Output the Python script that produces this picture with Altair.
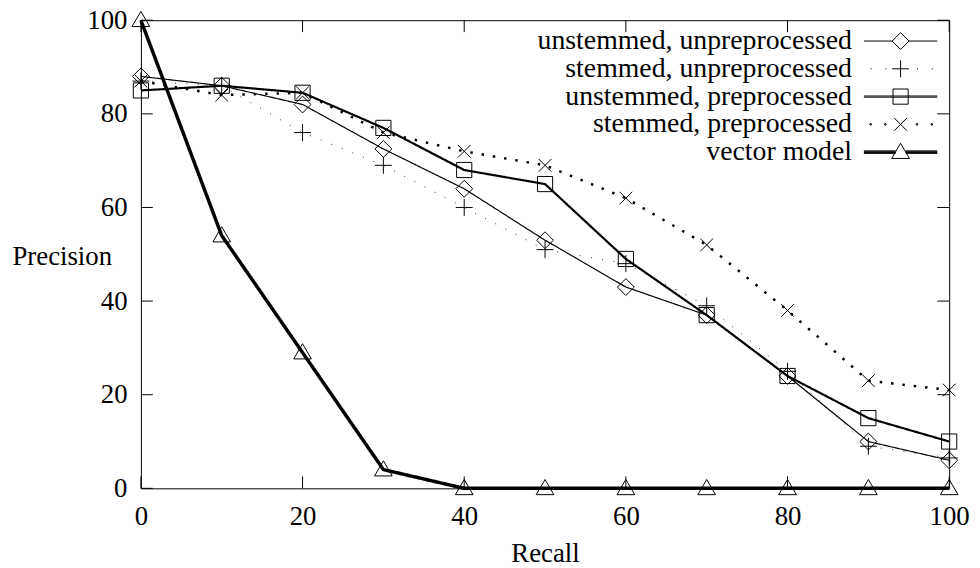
import altair as alt
import pandas as pd

# ---- data ----
recall = [0, 10, 20, 30, 40, 50, 60, 70, 80, 90, 100]
series_names = [
    "unstemmed, unpreprocessed",
    "stemmed, unpreprocessed",
    "unstemmed, preprocessed",
    "stemmed, preprocessed",
    "vector model",
]
unstemmed_unpre = [88, 86, 82, 72.5, 64, 53, 43, 37, 24, 10, 6]
stemmed_unpre = [87, 86, 76, 69, 60, 51, 48, 39, 25, 9, 6.5]
unstemmed_pre = [85, 86, 84.5, 77, 68, 65, 49, 37, 24, 15, 10]
stemmed_pre = [87, 84, 84.5, 76, 72, 69, 62, 52, 38, 23, 21]
vector_model = [100, 54, 29, 4, 0, 0, 0, 0, 0, 0, 0]
tick_values = [0, 20, 40, 60, 80, 100]

all_values = [unstemmed_unpre, stemmed_unpre, unstemmed_pre, stemmed_pre, vector_model]
rows = []
for name, vals in zip(series_names, all_values):
    for r, p in zip(recall, vals):
        rows.append({"series": name, "recall": r, "precision": p})
df = pd.DataFrame(rows)
ticks_x = pd.DataFrame({"recall": tick_values})
ticks_y = pd.DataFrame({"precision": tick_values})

W, H = 815, 472
FONT = "Liberation Serif"
TICK = 12

x_scale = alt.Scale(domain=[0, 100], nice=False, zero=False)
y_scale = alt.Scale(domain=[0, 100], nice=False, zero=False)
x_enc = alt.X("recall:Q", scale=x_scale,
              axis=alt.Axis(values=tick_values, title="Recall", labelPadding=15,
                            labelFlush=False, labelOverlap=False, tickSize=0,
                            titleX=W / 2, titleY=74, titleAlign="center",
                            titleBaseline="alphabetic"))
y_enc = alt.Y("precision:Q", scale=y_scale,
              axis=alt.Axis(values=tick_values, title="Precision", labelPadding=14,
                            labelFlush=False, labelOverlap=False, tickSize=0,
                            titleAngle=0, titleAlign="left", titleBaseline="alphabetic",
                            titleX=-130, titleY=246))

# line styles per series
line_styles = {
    "unstemmed, unpreprocessed": dict(strokeWidth=1.2, strokeDash=[1, 0], color="black"),
    "stemmed, unpreprocessed": dict(strokeWidth=1, strokeDash=[1, 10.5], color="#333333"),
    "unstemmed, preprocessed": dict(strokeWidth=2.2, strokeDash=[1, 0], color="black"),
    "stemmed, preprocessed": dict(strokeWidth=2.5, strokeDash=[2.5, 9], color="black"),
    "vector model": dict(strokeWidth=3.5, strokeDash=[1, 0], color="black"),
}


def f(v):
    return f"{v:.3f}"


def marker(kind, dx=0.0):
    if kind == "diamond":
        return f"M{f(dx - 1)},0L{f(dx)},-1L{f(dx + 1)},0L{f(dx)},1Z"
    if kind == "plus":
        return f"M{f(dx - 1)},0H{f(dx + 1)}M{f(dx)},-1V1"
    if kind == "square":
        return f"M{f(dx - 0.9)},-0.9H{f(dx + 0.9)}V0.9H{f(dx - 0.9)}Z"
    if kind == "cross":
        return (f"M{f(dx - 0.75)},-0.75L{f(dx + 0.75)},0.75"
                f"M{f(dx - 0.75)},0.75L{f(dx + 0.75)},-0.75")
    return f"M{f(dx)},-1.05L{f(dx + 1.05)},0.75L{f(dx - 1.05)},0.75Z"


kinds = ["diamond", "plus", "square", "cross", "triangle"]
marker_paths = [marker(k) for k in kinds]

# legend samples (shifted right of the label)
D = 7.41
L = 4.35
dot_x = [-3.55, -1.8, 1.95, 3.7]


def seg(a, b, y=0.0):
    return f"M{f(D + a)},{f(y)}H{f(D + b)}"


def dots(s):
    return "".join(f"M{f(D + x - s / 2)},{f(-s / 2)}h{s}v{s}h{-s}Z" for x in dot_x)


legend_paths = [
    marker("diamond", D) + seg(-L, -1) + seg(1, L),
    marker("plus", D) + "".join(seg(x, x + 0.12) for x in dot_x),
    marker("square", D) + seg(-L, L, -0.07) + seg(-L, L, 0.07),
    marker("cross", D) + dots(0.16),
    marker("triangle", D) + "".join(seg(-L, -0.6, o) + seg(0.6, L, o)
                                    for o in (-0.15, -0.05, 0.05, 0.15)),
]

base = alt.Chart(df)
layers = []
for name in series_names:
    st = line_styles[name]
    layers.append(
        base.transform_filter(alt.datum.series == name)
        .mark_line(color=st["color"],
                   strokeWidth=st["strokeWidth"], strokeDash=st["strokeDash"])
        .encode(x=x_enc, y=y_enc)
    )

points = base.mark_point(filled=False, size=289, strokeWidth=1, color="black",
                         opacity=1).encode(
    x=x_enc, y=y_enc,
    shape=alt.Shape("series:N",
                    scale=alt.Scale(domain=series_names, range=marker_paths),
                    legend=None),
)

legend_layer = base.transform_filter("false").mark_point(
    filled=False, size=289, strokeWidth=1, color="black", opacity=1
).encode(
    shape=alt.Shape(
        "series:N",
        scale=alt.Scale(domain=series_names, range=legend_paths),
        legend=alt.Legend(
            title=None, orient="none", legendX=689, legendY=7,
            labelAlign="right", labelOffset=0, labelFont=FONT,
            labelFontSize=28, labelColor="black", labelLimit=1000,
            rowPadding=0, padding=0, symbolSize=289,
            symbolStrokeColor="black", symbolStrokeWidth=1,
            symbolFillColor="transparent", symbolOpacity=1,
        ),
    )
)

tick_bottom = alt.Chart(ticks_x).mark_rule(color="black", strokeWidth=1).encode(
    x=x_enc, y=alt.value(H), y2=alt.value(H - TICK))
tick_top = alt.Chart(ticks_x).mark_rule(color="black", strokeWidth=1).encode(
    x=x_enc, y=alt.value(0), y2=alt.value(TICK))
tick_left = alt.Chart(ticks_y).mark_rule(color="black", strokeWidth=1).encode(
    y=y_enc, x=alt.value(0), x2=alt.value(TICK))
tick_right = alt.Chart(ticks_y).mark_rule(color="black", strokeWidth=1).encode(
    y=y_enc, x=alt.value(W - TICK), x2=alt.value(W))

chart = alt.layer(
    tick_bottom, tick_top, tick_left, tick_right, *layers, points, legend_layer
).resolve_scale(shape="independent").properties(
    width=W, height=H,
    background="white",
    autosize=alt.AutoSizeParams(type="none"),
    padding={"left": 134, "top": 10, "right": 23, "bottom": 78},
).configure_view(
    stroke="black", strokeWidth=1
).configure_axis(
    labelFont=FONT, labelFontSize=27, labelColor="black",
    titleFont=FONT, titleFontSize=27, titleColor="black", titleFontWeight="normal",
    domain=False, ticks=False, grid=False,
)

chart.save("out.html", embed_options={"renderer": "svg", "actions": False})
